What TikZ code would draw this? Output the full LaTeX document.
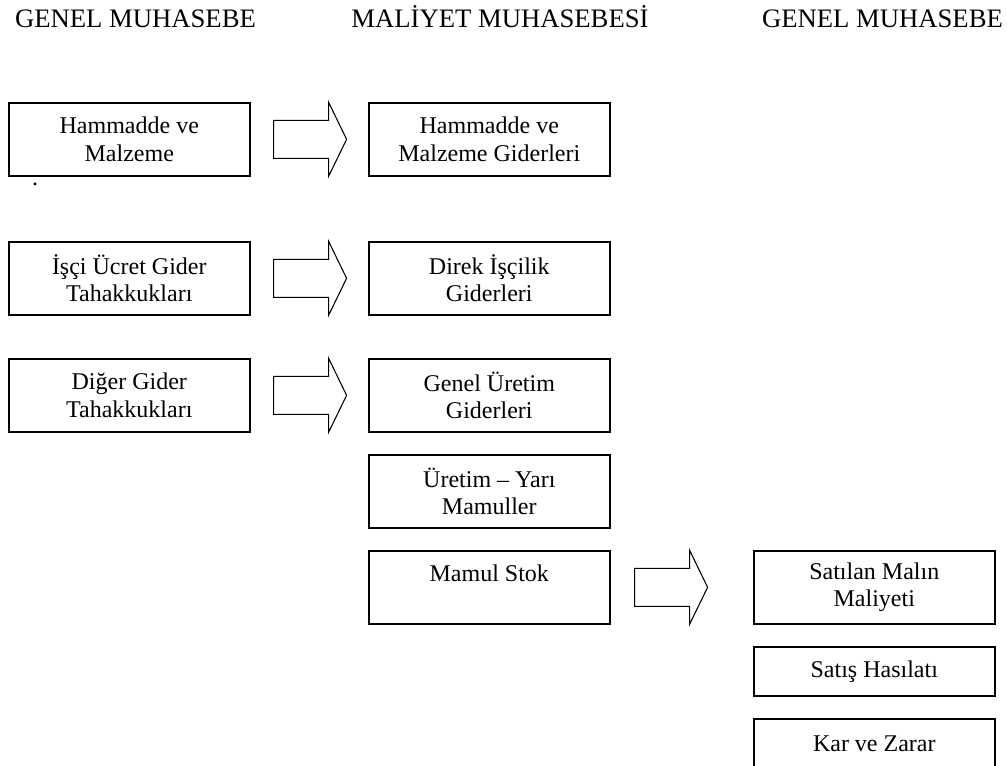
\documentclass[tikz,border=0pt]{standalone}
\usepackage{fontspec}
\setmainfont{Liberation Serif}
\usetikzlibrary{calc}

\tikzset{
    hesap/.style={draw, line width=1.2pt, minimum width=180.75pt, minimum height=54.75pt, align=center, anchor=north west, inner sep=2pt, font=\fontsize{18}{20.5}\selectfont},
    kisa/.style={hesap, minimum height=36.75pt},
    baslik/.style={anchor=base, font=\fontsize{20}{24}\selectfont},
    aktar/.pic={\draw[line width=0.8pt] (0,-19) -- (55,-19) -- (55,-37) -- (73,0) -- (55,37) -- (55,19) -- (0,19) -- cycle;}
}

\begin{document}
\begin{tikzpicture}[x=0.75pt, y=-0.75pt]
    \useasboundingbox (0,0) rectangle (1007,765);

    \node[baslik] (gm1) at (135.5,27) {GENEL MUHASEBE};
    \node[baslik] (mm) at (500,27) {MALİYET MUHASEBESİ};
    \node[baslik] (gm2) at (882.5,27) {GENEL MUHASEBE};

    % genel muhasebe
    \node[hesap] (hm) at (8,102) {Hammadde ve\\Malzeme};
    \node[hesap] (isci) at (8,241) {İşçi Ücret Gider\\Tahakkukları};
    \node[hesap] (diger) at (8,358) {Diğer Gider\\Tahakkukları};
    \node[font=\fontsize{18}{20}\selectfont] (nokta) at (35,184) {.};

    % maliyet muhasebesi
    \node[hesap] (hmg) at (368,102) {Hammadde ve\\Malzeme Giderleri};
    \node[hesap] (dig) at (368,241) {Direk İşçilik\\Giderleri};
    \node[hesap] (gug) at (368,358) {Genel Üretim\\Giderleri};
    \node[hesap] (uym) at (368,454) {Üretim -- Yarı\\Mamuller};
    \node[hesap] (ms) at (368,550) {Mamul Stok\\ \mbox{}};

    % genel muhasebe
    \node[hesap] (smm) at (753,550) {Satılan Malın\\Maliyeti};
    \node[kisa] (sh) at (753,646) {Satış Hasılatı};
    \node[kisa] (kz) at (753,718) {Kar ve Zarar};

    \pic at ($(hm.east)+(23,0)$) {aktar};
    \pic at ($(isci.east)+(23,0)$) {aktar};
    \pic at ($(diger.east)+(23,0)$) {aktar};
    \pic at ($(ms.east)+(24,0)$) {aktar};
\end{tikzpicture}
\end{document}
